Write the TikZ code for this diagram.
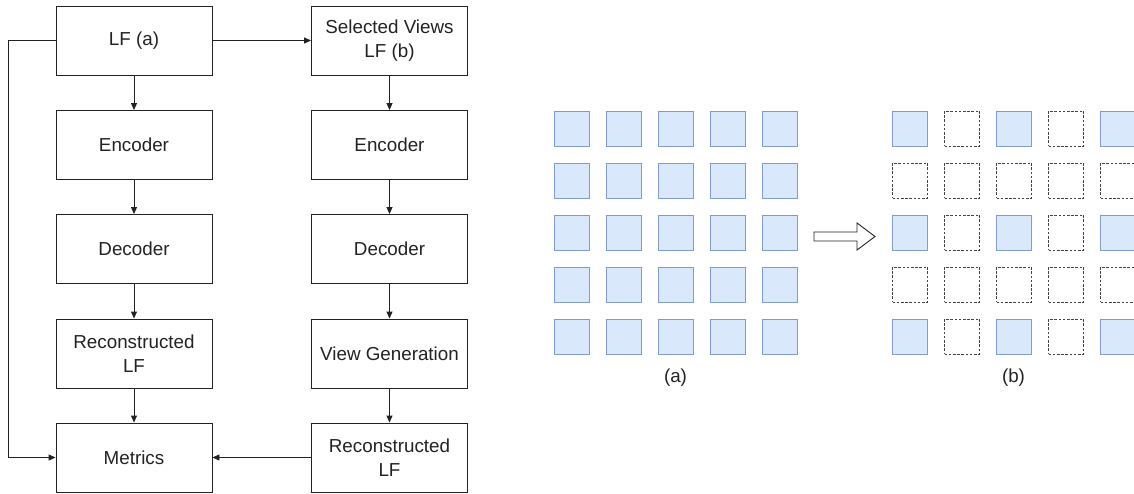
\documentclass[tikz,border=0pt]{standalone}
\usepackage{fontspec}
\setmainfont{Liberation Sans}
\usetikzlibrary{arrows.meta}
\definecolor{linegray}{HTML}{222222}
\definecolor{viewfill}{HTML}{DAE8FC}
\definecolor{viewdraw}{HTML}{7F9CCB}
\tikzset{
  stagebox/.style={draw=linegray, line width=0.9pt, minimum width=156pt, minimum height=69pt,
    inner sep=0pt, align=center, font=\fontsize{18.8}{24.5}\selectfont, text=linegray},
  flow/.style={draw=linegray, line width=0.9pt, -{Triangle[length=7pt,width=6pt]}},
  viewon/.style={draw=viewdraw, fill=viewfill, line width=1pt, minimum size=35pt, inner sep=0pt},
  viewoff/.style={draw=linegray!85, line width=0.9pt, dash pattern=on 2.6pt off 1.6pt, minimum size=35pt, inner sep=0pt},
  caption/.style={font=\fontsize{18.8}{22}\selectfont, text=linegray}
}
\begin{document}
\begin{tikzpicture}[x=1pt,y=-1pt]
\useasboundingbox (0,0) rectangle (1134,493);

% left pipeline: full light field
\node[stagebox] (a1) at (134,40.5) {LF (a)};
\node[stagebox] (a2) at (134,145) {Encoder};
\node[stagebox] (a3) at (134,249) {Decoder};
\node[stagebox] (a4) at (134,353.5) {Reconstructed\\LF};
\node[stagebox] (a5) at (134,457.5) {Metrics};

% right pipeline: selected views
\node[stagebox] (b1) at (389.5,40.5) {Selected Views\\LF (b)};
\node[stagebox] (b2) at (389.5,145) {Encoder};
\node[stagebox] (b3) at (389.5,249) {Decoder};
\node[stagebox] (b4) at (389.5,353.5) {View Generation};
\node[stagebox] (b5) at (389.5,457.5) {Reconstructed\\LF};

\coordinate (loop) at (8,0);

\draw[flow] (a1) -- (a2);
\draw[flow] (a2) -- (a3);
\draw[flow] (a3) -- (a4);
\draw[flow] (a4) -- (a5);
\draw[flow] (b1) -- (b2);
\draw[flow] (b2) -- (b3);
\draw[flow] (b3) -- (b4);
\draw[flow] (b4) -- (b5);
\draw[flow] (a1.east) -- (b1.west);
\draw[flow] (b5.west) -- (a5.east);
\draw[flow] (a1.west) -- (loop |- a1.west) -- (loop |- a5.west) -- (a5.west);

% view grid (a): all 5x5 views
\foreach \r in {0,...,4} {
  \foreach \c in {0,...,4} {
    \node[viewon] (ga-\r-\c) at ({571.5+52*\c},{128.5+52*\r}) {};
  }
}
\node[caption] (capa) at (675.5,378) {(a)};

% view grid (b): every other view kept
\foreach \r in {0,...,4} {
  \foreach \c in {0,...,4} {
    \pgfmathtruncatemacro{\keep}{(mod(\r,2)==0) && (mod(\c,2)==0)}
    \ifnum\keep=1
      \node[viewon] (gb-\r-\c) at ({910+52*\c},{128.5+52*\r}) {};
    \else
      \node[viewoff] (gb-\r-\c) at ({910+52*\c},{128.5+52*\r}) {};
    \fi
  }
}
\node[caption] (capb) at (1013.5,378) {(b)};

% hollow block arrow between the grids
\draw[draw=linegray, line width=0.9pt, fill=white]
  (814,232) -- (857,232) -- (857,223) -- (875,236.5) -- (857,250) -- (857,241) -- (814,241) -- cycle;
\end{tikzpicture}
\end{document}
